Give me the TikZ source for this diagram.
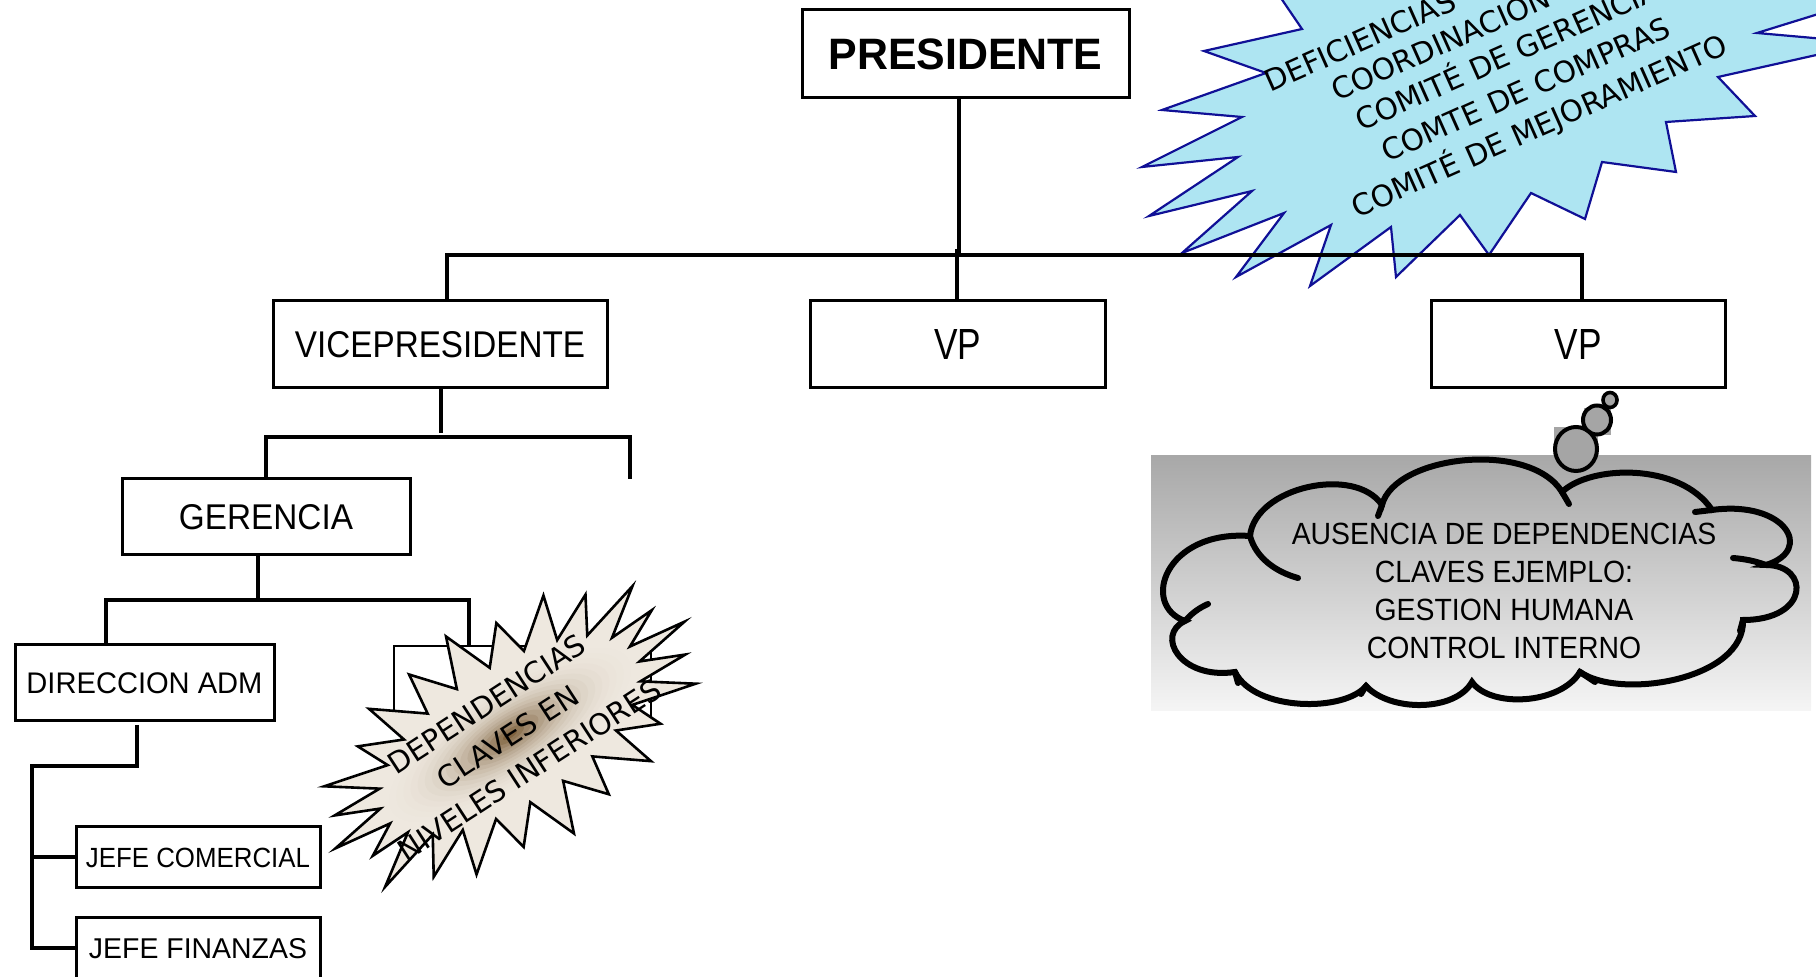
\documentclass[tikz,border=0pt]{standalone}
\usepackage{fontspec}
\usepackage{graphicx}
\setmainfont{Liberation Sans}
\newfontfamily\nar[FakeStretch=0.925]{Liberation Sans}
\newfontfamily\dvs{DejaVu Sans}
\definecolor{starblue}{RGB}{174,229,242}
\definecolor{starline}{RGB}{16,16,150}
\definecolor{brownC}{RGB}{112,80,40}
\definecolor{beigeC}{RGB}{238,232,223}
\definecolor{bubgray}{RGB}{165,165,165}
\definecolor{cgA}{RGB}{168,168,168}
\definecolor{cgB}{RGB}{220,220,220}
\definecolor{cgC}{RGB}{245,245,245}
\newcommand{\boxlab}[3]{\resizebox{#1pt}{#2pt}{#3}}
\newcommand{\burstpath}[1]{\path[#1] (0:208 and 114)
  \foreach \k/\f in {1/0.95,2/1.02,3/0.9,4/1.0,5/0.94,6/1.03,7/0.92,8/1.0,9/0.96,10/1.04,11/0.9,12/1.0,13/0.95,14/1.02,15/0.91,16/1.0,17/0.96,18/1.03,19/0.92,20/1.0,21/0.95,22/1.02,23/0.93,24/1.0}
  { -- ({\k*15-7.5}:150 and 68) -- ({\k*15}:{208*\f} and {114*\f}) } -- cycle;}

\begin{document}
\begin{tikzpicture}[x=0.5pt,y=-0.5pt,
  box/.style={draw, line width=1.5pt, fill=white, inner sep=0pt, outer sep=0pt, font=\nar},
  conn/.style={line width=2pt},
  cline/.style={line width=3pt, line cap=round},
  bluetxt/.style={font=\dvs\fontsize{14.8pt}{17pt}\selectfont, rotate=24, anchor=base west, inner sep=0pt},
  bub/.style={draw, line width=2pt, fill=bubgray}]
\useasboundingbox (0,0) rectangle (1816,977);
\clip (0,0) rectangle (1816,977);

% blue starburst (background)
\filldraw[fill=starblue, draw=starline, line width=1.1pt, line join=miter]
  (1255,-40) -- (1302,29) -- (1204,51) -- (1266,73) -- (1162,110) -- (1242,117)
  -- (1142,167) -- (1238,157) -- (1149,216) -- (1252,191) -- (1182,253) -- (1284,213)
  -- (1236,277) -- (1331,225) -- (1310,286) -- (1391,227) -- (1396,277) -- (1460,215)
  -- (1489,255) -- (1531,193) -- (1585,219) -- (1602,162) -- (1676,172) -- (1666,122)
  -- (1755,116) -- (1718,77) -- (1870,43) -- (1757,33) -- (1870,-2) -- (1870,-40) -- cycle;
\node[bluetxt] (bt1) at (1270,93) {DEFICIENCIAS};
\node[bluetxt] (bt2) at (1337,102) {COORDINACION};
\node[bluetxt] (bt3) at (1361,132) {COMITÉ DE GERENCIA};
\node[bluetxt] (bt4) at (1387,163) {COMTE DE COMPRAS};
\node[bluetxt] (bt5) at (1357,219) {COMITÉ DE MEJORAMIENTO};

% boxes
\node[box, minimum width=163.5pt, minimum height=44pt] (pres) at (965.5,54) {\boxlab{137}{15.35}{\bfseries PRESIDENTE}};
\node[box, minimum width=167pt, minimum height=43.5pt] (vice) at (440,344.5) {\boxlab{145}{13}{VICEPRESIDENTE}};
\node[box, minimum width=147.5pt, minimum height=43.5pt] (vp1) at (957.5,344.5) {\boxlab{23.5}{15}{VP}};
\node[box, minimum width=147pt, minimum height=43.5pt] (vp2) at (1578,344.5) {\boxlab{23.5}{15}{VP}};
\node[box, minimum width=144pt, minimum height=38pt] (ger) at (266,517) {\boxlab{87}{12.5}{GERENCIA}};
\node[box, minimum width=129.5pt, minimum height=38pt] (dir) at (144.5,683) {\boxlab{118}{10.4}{DIRECCION ADM}};
\node[box, line width=1.2pt, minimum width=128.5pt, minimum height=38pt] (hid) at (522.5,684) {};
\node[box, minimum width=122pt, minimum height=30.5pt] (jc) at (198,857.5) {\boxlab{112}{9.7}{JEFE COMERCIAL}};
\node[box, minimum width=122pt, minimum height=30.5pt] (jf) at (198,948.5) {\boxlab{109}{10}{JEFE FINANZAS}};

% connectors
\coordinate (busL) at (447,255);
\coordinate (busM) at (959,255);
\coordinate (busR) at (1582,255);
\coordinate (vp1top) at (956.5,249);
\draw[conn] (pres.south -| busM) -- (busM);
\draw[conn] (busL |- vice.north) -- (busL) -- (busR) -- (busR |- vp2.north);
\draw[conn] (vp1top) -- (vp1top |- vp1.north);

\coordinate (v1) at (441,433);
\coordinate (b2L) at (265.5,437);
\coordinate (b2R) at (630,437);
\coordinate (b2Rend) at (630,479);
\draw[conn] (vice.south -| v1) -- (v1);
\draw[conn] (b2L |- ger.north) -- (b2L) -- (b2R) -- (b2Rend);

\coordinate (g1) at (258,600);
\coordinate (b3L) at (106,600);
\coordinate (b3R) at (469,600);
\draw[conn] (ger.south -| g1) -- (g1);
\draw[conn] (b3L |- dir.north) -- (b3L) -- (b3R) -- (b3R |- hid.north);

\coordinate (d2) at (137,766);
\coordinate (d3) at (32,766);
\draw[conn] ([yshift=-2pt]dir.south -| d2) -- (d2) -- (d3) -- (d3 |- jf.west) -- (jf.west);
\draw[conn] (d3 |- jc.west) -- (jc.west);

% brown starburst
\begin{scope}[shift={(510,735)}, rotate=33]
  \burstpath{fill=beigeC}
  \begin{scope}
    \burstpath{clip}
    \foreach \i in {20,...,1} {
      \pgfmathsetmacro\r{\i/20}
      \pgfmathsetmacro\p{100*(1-\r)^2.6}
      \fill[brownC!\p!beigeC] (0,0) ellipse ({165*\r} and {58*\r});
    }
  \end{scope}
  \burstpath{draw, line width=1.3pt, line join=miter}
\end{scope}
\node[font=\dvs\fontsize{14.6pt}{19.6pt}\selectfont, align=center, rotate=33, inner sep=0pt] (btxt) at (508,737) {DEPENDENCIAS\\CLAVES EN\\NIVELES INFERIORES};

% thought cloud
\shade[top color=cgA, middle color=cgB, bottom color=cgC] (1151,456) rectangle (1811,711);
\fill[bubgray] (1554,427) rectangle (1598,456);
\fill[bubgray] (1584,408) rectangle (1611,435);
\draw[bub] (1576,449) ellipse (21 and 22);
\draw[bub] (1597,420) ellipse (14 and 14.5);
\draw[bub, line width=1.8pt] (1610,400) ellipse (7 and 7.5);

\draw[cline] (1250,536) .. controls (1255,487) and (1355,465) .. (1382,505)
  .. controls (1395,455) and (1530,440) .. (1562,492)
  .. controls (1590,465) and (1680,462) .. (1712,510)
  .. controls (1785,500) and (1815,550) .. (1766,565)
  .. controls (1810,565) and (1810,620) .. (1743,620)
  .. controls (1745,680) and (1620,700) .. (1580,672)
  .. controls (1560,705) and (1490,708) .. (1472,682)
  .. controls (1455,712) and (1390,712) .. (1366,686)
  .. controls (1345,712) and (1255,712) .. (1235,672)
  .. controls (1180,680) and (1155,635) .. (1185,621)
  .. controls (1140,605) and (1165,530) .. cycle;
\draw[cline] (1250,536) .. controls (1256,558) and (1276,572) .. (1298,578);
\draw[cline] (1382,505) -- (1378,516);
\draw[cline] (1562,492) -- (1569,504);
\draw[cline] (1712,510) -- (1695,512);
\draw[cline] (1766,565) .. controls (1755,561) and (1745,559) .. (1733,558);
\draw[cline] (1743,620) -- (1740,631);
\draw[cline] (1580,672) -- (1595,682);
\draw[cline] (1366,686) -- (1361,694);
\draw[cline] (1235,672) -- (1238,683);
\draw[cline] (1185,621) .. controls (1192,613) and (1199,608) .. (1208,604);
\node[font=\nar\fontsize{15.35pt}{19pt}\selectfont, align=center, inner sep=0pt] (ctxt) at (1504,591)
  {AUSENCIA DE DEPENDENCIAS\\CLAVES EJEMPLO:\\GESTION HUMANA\\CONTROL INTERNO};
\end{tikzpicture}
\end{document}
